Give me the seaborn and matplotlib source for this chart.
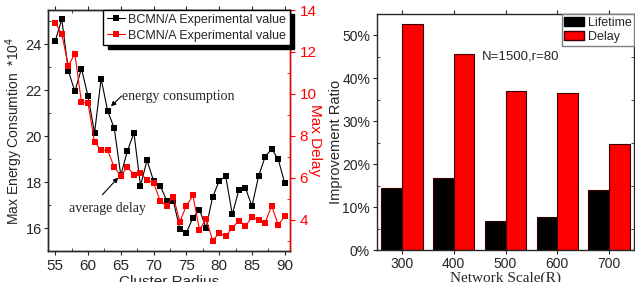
import matplotlib
matplotlib.use("Agg")
import matplotlib.pyplot as plt
import numpy as np
import pandas as pd
import seaborn as sns
from matplotlib.patches import Patch
from matplotlib.ticker import MultipleLocator, PercentFormatter

# left panel: cluster radius sweep
radius = list(range(55, 91))
energy = [24.15, 25.1, 22.85, 21.95, 22.95, 21.75, 20.15, 22.5, 21.1, 20.35,
          18.3, 19.35, 20.15, 17.85, 18.95, 18.05, 17.85, 17.2, 17.2, 15.95,
          15.8, 16.45, 16.8, 16.0, 17.35, 18.05, 18.25, 16.6, 17.65, 17.75,
          16.95, 18.25, 19.1, 19.45, 19.0, 17.95]
delay = [13.4, 12.85, 11.35, 11.9, 9.6, 9.55, 7.7, 7.3, 7.3, 6.5,
         6.1, 6.5, 6.15, 6.2, 5.9, 5.75, 4.9, 4.65, 5.1, 3.9,
         4.65, 5.15, 3.5, 4.05, 3.0, 3.35, 3.2, 3.6, 3.95, 3.7,
         4.1, 4.0, 3.85, 4.65, 3.75, 4.15]

# right panel: network scale
scales = ["300", "400", "500", "600", "700"]
lifetime = [0.145, 0.168, 0.067, 0.078, 0.139]
delay_gain = [0.527, 0.456, 0.370, 0.366, 0.248]

sns.set_style("ticks")
plt.rcParams["font.family"] = ["Liberation Sans", "DejaVu Sans"]
plt.rcParams["axes.linewidth"] = 1.0

fig = plt.figure(figsize=(6.35, 2.82), dpi=100)
W, H = 635, 282
ax = fig.add_axes([48 / W, 1 - 251 / H, 242 / W, 241 / H])
ax2 = ax.twinx()

left_df = pd.DataFrame({"radius": radius, "energy": energy, "delay": delay})
label = "BCMN/A Experimental value"
sns.lineplot(data=left_df, x="radius", y="energy", ax=ax, color="black", marker="s",
             markersize=5, markeredgewidth=0, lw=0.8, label=label)
sns.lineplot(data=left_df, x="radius", y="delay", ax=ax2, color="red", marker="s",
             markersize=5, markeredgewidth=0, lw=0.8, label=label)

ax.set_xlim(53.9, 90.8)
ax.set_ylim(15.0, 25.5)
ax2.set_ylim(2.5, 14.0)
ax.xaxis.set_major_locator(MultipleLocator(5))
ax.xaxis.set_minor_locator(MultipleLocator(2.5))
ax.yaxis.set_major_locator(MultipleLocator(2))
ax.yaxis.set_minor_locator(MultipleLocator(1))
ax2.yaxis.set_major_locator(MultipleLocator(2))
ax2.yaxis.set_minor_locator(MultipleLocator(1))
ax.tick_params(axis="both", which="major", labelsize=10.5, length=3, direction="out", pad=1.5)
ax.tick_params(axis="both", which="minor", length=2.5, direction="in")
ax.tick_params(axis="x", top=True, which="both")
ax.tick_params(axis="x", which="major", labelsize=11, pad=3)
ax2.tick_params(axis="y", which="major", labelsize=11, length=3.5, colors="red")
ax2.tick_params(axis="y", which="minor", length=2.5, direction="in", colors="red")
ax2.spines["right"].set_color("red")

ax.set_xlabel("Cluster Radius", fontsize=11)
ax.xaxis.set_label_coords(0.5, -0.1)
ax.set_ylabel("Max Energy Consumtion  *10$^4$", fontsize=10, va="center")
ax.yaxis.set_label_coords(-0.138, 0.5)
ax2.set_ylabel("Max Delay", fontsize=11, color="red", rotation=270, va="center")
ax2.yaxis.set_label_coords(1.103, 0.46)

ax.get_legend().remove()
h1, l1 = ax.get_legend_handles_labels()
h2, l2 = ax2.get_legend_handles_labels()
ax2.legend(h1 + h2, l1 + l2, loc="upper right", borderaxespad=0, fontsize=9,
           fancybox=False, framealpha=1, edgecolor="black", handlelength=1.4,
           handletextpad=0.3, labelspacing=0.3, borderpad=0.3,
           shadow={"color": "black", "alpha": 1, "ox": 3, "oy": -3})

serif = ["Liberation Serif", "DejaVu Serif"]
arrow = dict(arrowstyle="-|>", color="black", lw=0.8, mutation_scale=7,
             shrinkA=0, shrinkB=0)
ax.text(65.2, 21.75, "energy consumption", fontsize=10, family=serif,
        va="center", ha="left")
ax.annotate("", xy=(63.5, 21.3), xytext=(65.1, 21.75), arrowprops=arrow)
ax.text(62.9, 16.85, "average delay", fontsize=10, family=serif,
        va="center", ha="center")
ax.annotate("", xy=(64.6, 18.2), xytext=(62.2, 17.45), arrowprops=arrow)

# right panel
bx = fig.add_axes([377 / W, 1 - 250 / H, 257 / W, 236 / H])
right_df = pd.DataFrame({
    "scale": scales * 2,
    "value": lifetime + delay_gain,
    "metric": ["Lifetime"] * len(scales) + ["Delay"] * len(scales),
})
sns.barplot(data=right_df, x="scale", y="value", hue="metric", ax=bx,
            palette=["black", "red"], saturation=1, width=0.8,
            edgecolor="#3a0000", linewidth=0.8, legend=False)
bx.set_xlim(-0.48, 4.48)
bx.set_ylim(0, 0.55)
bx.yaxis.set_major_locator(MultipleLocator(0.1))
bx.yaxis.set_minor_locator(MultipleLocator(0.05))
bx.yaxis.set_major_formatter(PercentFormatter(1.0, decimals=0))
bx.tick_params(axis="both", which="major", labelsize=10, length=3, direction="out", pad=2)
bx.tick_params(axis="y", which="minor", length=2.5, direction="in", right=True)
bx.tick_params(axis="x", top=True)
bx.tick_params(axis="y", which="major", right=True)
sns.despine(ax=bx, top=False, right=False)
bx.set_xlabel("Network Scale(R)", fontsize=11, family=serif)
bx.xaxis.set_label_coords(0.5, -0.092)
bx.set_ylabel("Improvement Ratio", fontsize=10.5, va="center")
bx.yaxis.set_label_coords(-0.158, 0.46)
bx.text(0.41, 0.818, "N=1500,r=80", transform=bx.transAxes, fontsize=9.5,
        va="center", ha="left")
handles = [Patch(facecolor="black", edgecolor="black"),
           Patch(facecolor="red", edgecolor="#3a0000")]
bx.legend(handles, ["Lifetime", "Delay"], loc="upper right", borderaxespad=0,
          fontsize=9, fancybox=False, framealpha=1, edgecolor="gray",
          handlelength=1.6, handletextpad=0.3, labelspacing=0.2, borderpad=0.2)

fig.savefig("out.png", dpi=100)
